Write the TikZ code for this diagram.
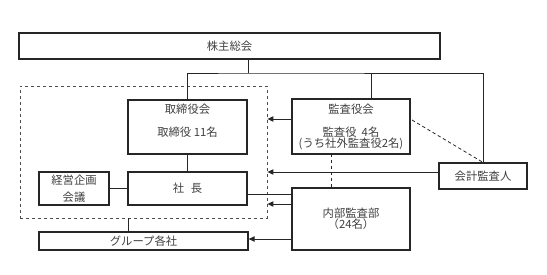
\documentclass[tikz,border=0pt]{standalone}
\usepackage{fontspec}
\setmainfont{Noto Sans CJK JP}
\usetikzlibrary{arrows.meta}
\begin{document}
\begin{tikzpicture}[x=0.75pt,y=-0.75pt,line width=0.7pt,draw=black!85,
    font=\fontsize{8.5}{10}\selectfont,text=black!75]
            %
            % `box' is used for every organ of the company.
            % `area' is used for the dashed frame round the executive side.
            % `txt' is used for the loose lines of text in a box.
            % `toarea' is used for the arrows pointing at the frame.
            \tikzstyle{box} = [draw,line width=0.9pt,inner sep=0pt,align=center]
            \tikzstyle{area} = [draw=black!70,dash pattern=on 2.5pt off 2pt,line width=0.6pt,inner sep=0pt]
            \tikzstyle{txt} = [inner sep=0pt]
            \tikzstyle{toarea} = [-{Triangle[length=4.5pt,width=4pt]}]
            \tikzstyle{link} = [dash pattern=on 2.5pt off 2pt,line width=0.6pt]
            \useasboundingbox (0,0) rectangle (547,275);
            %
            % Frame
            \node[area,minimum width=185.25pt,minimum height=99pt] (area) at (143.5,152) {};
            %
            % Boxes
            \node[box,minimum width=315.75pt,minimum height=19.5pt] (gm) at (229.5,46) {株主総会};
            \node[box,minimum width=89.25pt,minimum height=40.5pt] (board) at (187.5,127) {};
            \node[txt] (boardname) at (187.5,109) {取締役会};
            \node[txt] (boardcount) at (187.5,132) {取締役\ 11名};
            \node[box,minimum width=88.5pt,minimum height=41.25pt,font=\fontsize{8.5}{8.25}\selectfont] (audit) at (351,126.5)
                {監査役会\\[9pt]監査役\ \ 4名\\(うち社外監査役2名)};
            \node[box,minimum width=89.25pt,minimum height=24.75pt] (pres) at (187.5,188.5) {社\hspace{5pt}長};
            \node[box,minimum width=52.5pt,minimum height=24.75pt,font=\fontsize{8.5}{12.5}\selectfont] (plan) at (74,188.5) {経営企画\\会議};
            \node[box,minimum width=156.75pt,minimum height=13.5pt] (group) at (143.5,241) {グループ各社};
            \node[box,minimum width=66pt,minimum height=19.5pt] (acct) at (483,176) {会計監査人};
            \node[box,minimum width=88.5pt,minimum height=46.5pt,font=\fontsize{8.5}{8.25}\selectfont] (internal) at (351,219) {内部監査部\\（24名）};
            %
            % Tree from the general meeting
            \coordinate (split) at (248,73);
            \coordinate (auditdrop) at (371,73);
            \draw (gm.south -| split) -- (split);
            \draw (board.north) |- (split) -| (acct.north);
            \draw (auditdrop) -- (auditdrop |- audit.north);
            \draw (board.south) -- (pres.north);
            \draw (plan.east) -- (pres.west);
            %
            % Arrows to the frame
            \coordinate (fromaudit) at (292,119);
            \coordinate (fromacct) at (439,172);
            \coordinate (frominternal) at (292,204);
            \coordinate (togroup) at (292,239);
            \coordinate (frompres) at (247,194);
            \draw[toarea] (fromaudit) -- (fromaudit -| area.east);
            \draw[toarea] (fromacct) -- (fromacct -| area.east);
            \draw[toarea] (frominternal) -- (frominternal -| area.east);
            \draw[toarea] (togroup) -- (togroup -| group.east);
            \draw (frompres) -- (frompres -| internal.west);
            %
            % Dashed links
            \coordinate (auditlink) at (412,120);
            \coordinate (auditdown) at (331,154);
            \draw[link] (auditlink) -- (acct.north);
            \draw[link] (auditdown) -- (auditdown |- internal.north);
            \coordinate (areadrop) at (128,218);
            \draw (areadrop) -- (areadrop |- group.north);
        \end{tikzpicture}
\end{document}
